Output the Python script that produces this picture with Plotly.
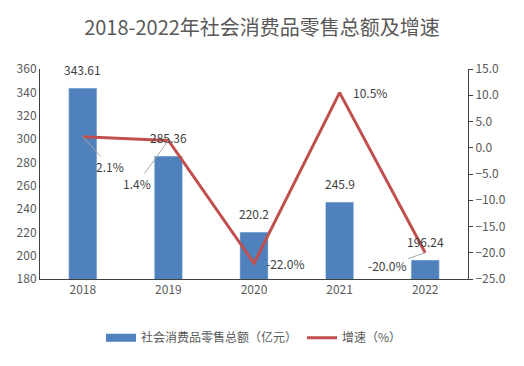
import plotly.graph_objects as go

years = ["2018", "2019", "2020", "2021", "2022"]
sales = [343.61, 285.36, 220.2, 245.9, 196.24]
sales_labels = ["343.61", "285.36", "220.2", "245.9", "196.24"]
growth = [2.1, 1.4, -22.0, 10.5, -20.0]
growth_labels = ["2.1%", "1.4%", "-22.0%", "10.5%", "-20.0%"]
left_ticks = [180, 200, 220, 240, 260, 280, 300, 320, 340, 360]
right_ticks = [-25, -20, -15, -10, -5, 0, 5, 10, 15]

FONT = "Liberation Sans Narrow, Noto Sans CJK SC, sans-serif"
GRAY = "#595959"
LABEL = "#404040"

fig = go.Figure()
fig.add_trace(go.Bar(
    x=years, y=sales, name="社会消费品零售总额（亿元）", showlegend=False,
    marker=dict(color="#4F81BD"), width=0.33, hoverinfo="x+y",
))
# legend proxy for the bars (wide rectangle swatch)
fig.add_trace(go.Scatter(
    x=[years[0]], y=[sales[0]], name="社会消费品零售总额（亿元）", mode="lines",
    line=dict(color="#4F81BD", width=8), hoverinfo="skip",
))
fig.add_trace(go.Scatter(
    x=years, y=growth, name="增速（%）", yaxis="y2", mode="lines",
    line=dict(color="#C0504D", width=3),
))

# bar value labels (category index used as x position on the category axis)
for i, (v, lab) in enumerate(zip(sales, sales_labels)):
    fig.add_annotation(
        x=i, y=v, xref="x", yref="y", text=lab, showarrow=False,
        yshift=19, font=dict(size=12, color=LABEL, family=FONT),
    )

# growth labels: pixel offsets and whether a grey leader line is drawn
offsets = [(27, 30), (-31, 43), (31, 0), (30, 0), (-38, 13)]
leaders = [True, True, False, False, True]
for i, (g, lab, (ax, ay), ld) in enumerate(zip(growth, growth_labels, offsets, leaders)):
    fig.add_annotation(
        x=i, y=g, xref="x", yref="y2", text=lab,
        showarrow=True, arrowhead=0, arrowwidth=1,
        arrowcolor="#A6A6A6" if ld else "rgba(0,0,0,0)",
        ax=ax, ay=ay, standoff=0,
        font=dict(size=12, color=LABEL, family=FONT),
    )

fig.update_layout(
    width=524, height=366,
    paper_bgcolor="white", plot_bgcolor="white",
    margin=dict(l=40, r=56, t=69, b=87, autoexpand=False),
    title=dict(text="2018-2022年社会消费品零售总额及增速", x=0.5, xanchor="center",
               y=1 - 28 / 366, yanchor="middle",
               font=dict(size=20, color=GRAY, family=FONT)),
    font=dict(family=FONT, color=GRAY, size=12),
    showlegend=True,
    legend=dict(orientation="h", x=0.5, xanchor="center", y=-0.28, yanchor="middle",
                itemwidth=30, font=dict(size=12, color=GRAY, family=FONT)),
    xaxis=dict(type="category", categoryorder="array", categoryarray=years,
               range=[-0.5, 4.5], autorange=False, automargin=False,
               showline=True, linecolor="#404040", linewidth=1, ticks="",
               tickfont=dict(size=12, color=GRAY), showgrid=False),
    yaxis=dict(range=[180, 360], autorange=False, automargin=False, tickvals=left_ticks,
               showline=True, linecolor="#404040", linewidth=1, showgrid=False,
               zeroline=False, ticks="", tickfont=dict(size=12, color=GRAY)),
    yaxis2=dict(range=[-25, 15], autorange=False, automargin=False, tickvals=right_ticks,
                overlaying="y", side="right", ticksuffix="%", tickformat=".1f",
                showline=True, linecolor="#404040", linewidth=1, ticks="outside",
                ticklen=4, tickcolor="#404040", showgrid=False, zeroline=False,
                tickfont=dict(size=12, color=GRAY)),
)

fig.write_html("out.html", config={"displayModeBar": False},
               post_script="document.body.style.margin='0';")
